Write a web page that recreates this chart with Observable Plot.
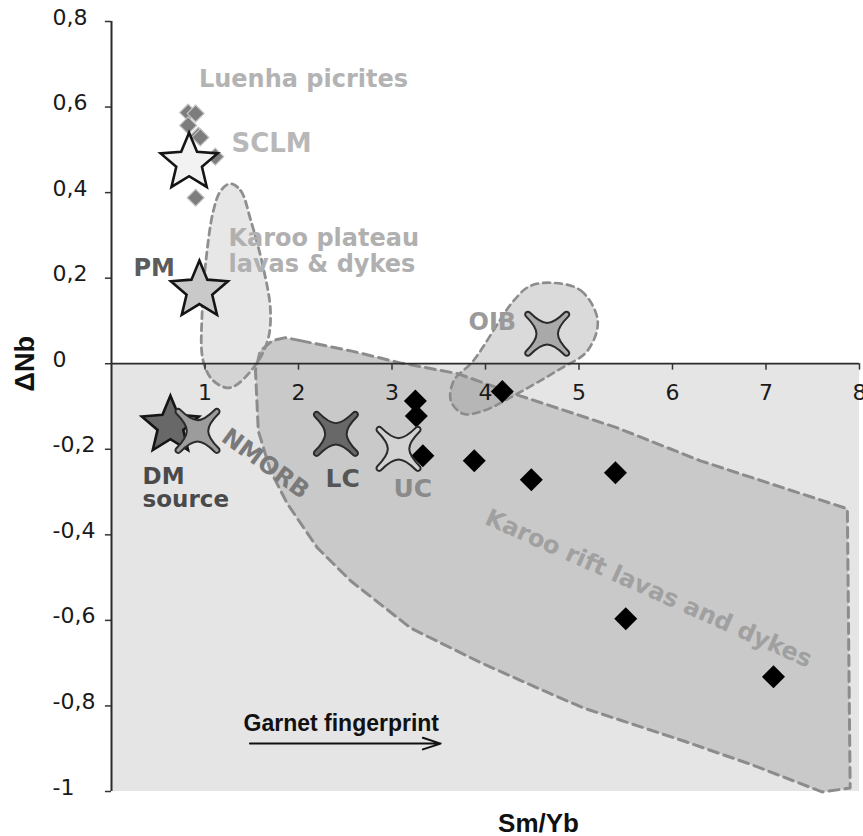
<!DOCTYPE html>
<html><head><meta charset="utf-8">
<script src="https://cdn.jsdelivr.net/npm/d3@7"></script>
<script src="https://cdn.jsdelivr.net/npm/@observablehq/plot@0.6"></script>
<style>body{margin:0;background:#fff}</style>
</head><body><div id="chart"></div>
<script>
// ---- axes ----
const smYbDomain = [0, 8];
const dNbDomain = [-1, 0.8];
const xTicks = [1, 2, 3, 4, 5, 6, 7, 8];
const yTicks = [-1, -0.8, -0.6, -0.4, -0.2, 0, 0.2, 0.4, 0.6, 0.8];

// ---- Karoo rift lavas and dykes (black diamonds) ----
const riftSmYb = [3.25, 3.26, 3.33, 3.88, 4.49, 4.18, 5.39, 5.50, 7.08];
const riftDNb  = [-0.087, -0.122, -0.215, -0.227, -0.271, -0.065, -0.255, -0.596, -0.732];

// ---- Luenha picrites (grey diamonds) ----
const luenhaSmYb = [0.82, 0.90, 0.82, 0.93, 0.95, 1.11, 0.90];
const luenhaDNb  = [0.587, 0.585, 0.557, 0.533, 0.529, 0.484, 0.388];

// ---- reservoirs (5-point stars) ----
const starNames = ["SCLM", "PM", "DM source"];
const starSmYb = [0.83, 0.94, 0.63];
const starDNb  = [0.470, 0.171, -0.145];
const starFill = ["#f2f2f2", "#c9c9c9", "#686868"];

// ---- reservoirs (4-point stars) ----
const crossNames = ["NMORB", "LC", "UC", "OIB"];
const crossSmYb = [0.92, 2.40, 3.07, 4.66];
const crossDNb  = [-0.157, -0.164, -0.199, 0.070];
const crossFill = ["#9c9c9c", "#686868", "#d2d2d2", "#a9a9a9"];

// ---- fields (outlines, Sm/Yb, ΔNb) ----
const riftField = [
  [2.02, 0.054], [2.56, 0.030], [3.09, 0.002], [3.70, -0.023], [4.37, -0.075],
  [5.41, -0.150], [6.30, -0.227], [7.87, -0.339], [7.90, -0.992], [7.60, -1.001],
  [6.83, -0.936], [6.12, -0.882], [5.05, -0.805], [4.70, -0.772], [3.95, -0.699],
  [3.20, -0.618], [2.56, -0.508], [2.20, -0.430], [1.88, -0.327], [1.70, -0.250],
  [1.57, -0.157], [1.54, -0.016], [1.59, 0.030], [1.72, 0.054], [1.86, 0.061]
];
const plateauField = [
  [1.27, 0.421], [1.38, 0.405], [1.49, 0.335], [1.63, 0.218], [1.70, 0.124],
  [1.67, 0.054], [1.52, -0.009], [1.27, -0.056], [1.09, -0.040], [0.98, 0.007],
  [0.97, 0.124], [1.01, 0.241], [1.09, 0.358], [1.17, 0.405]
];
const oibField = [
  [4.73, 0.189], [5.02, 0.171], [5.20, 0.101], [5.09, 0.030], [4.80, -0.012],
  [4.34, -0.070], [3.98, -0.110], [3.76, -0.117], [3.63, -0.087], [3.66, -0.040],
  [3.87, 0.007], [4.30, 0.147], [4.48, 0.182]
];

// ---- annotation labels ----
const labelText = ["Luenha picrites", "SCLM", "Karoo plateau", "lavas & dykes", "PM", "OIB",
  "DM", "source", "NMORB", "LC", "UC", "Karoo rift lavas and dykes", "Garnet fingerprint"];
const labelSmYb = [2.053, 1.283, 1.251, 1.251, 0.235, 3.818, 0.332, 0.332, 1.647, 2.289, 3.016, 5.711, 1.412];
const labelDNb  = [0.646, 0.494, 0.276, 0.214, 0.206, 0.078, -0.281, -0.336, -0.234, -0.289, -0.312, -0.542, -0.858];
const garnetArrowSmYb = [1.48, 3.52];
const garnetArrowDNb = -0.888;

// ---- custom symbols ----
const star5 = {draw(ctx, size) {
  const R = Math.sqrt(size / Math.PI), r = R * 0.45;
  for (let i = 0; i < 10; i++) {
    const a = -Math.PI / 2 + i * Math.PI / 5, rr = i % 2 ? r : R;
    const px = rr * Math.cos(a), py = rr * Math.sin(a);
    i ? ctx.lineTo(px, py) : ctx.moveTo(px, py);
  }
  ctx.closePath();
}};
const cross4 = {draw(ctx, size) {
  const R = Math.sqrt(size / Math.PI), w = 0.09 * R, a = 0.25 * R;
  for (let k = 0; k < 4; k++) {
    const t = Math.PI / 4 + k * Math.PI / 2, t2 = t + Math.PI / 2;
    const ux = Math.cos(t), uy = Math.sin(t), vx = Math.cos(t2), vy = Math.sin(t2);
    const cx = (R - w) * ux, cy = (R - w) * uy;
    if (k === 0) ctx.moveTo(cx - w * vx, cy - w * vy);
    ctx.arc(cx, cy, w, t - Math.PI / 2, t + Math.PI / 2);
    const nx = (R - w) * vx + w * ux, ny = (R - w) * vy + w * uy;
    ctx.bezierCurveTo(a * ux + w * vx, a * uy + w * vy, a * vx + w * ux, a * vy + w * uy, nx, ny);
  }
  ctx.closePath();
}};
const diamond = {draw(ctx, size) {
  const r = Math.sqrt(size / Math.PI);
  ctx.moveTo(0, -r); ctx.lineTo(r, 0); ctx.lineTo(0, r); ctx.lineTo(-r, 0); ctx.closePath();
}};

const fmt = d => String(d).replace(".", ",");
const LAB = "DejaVu Sans";
const lab = (i, opts) => Plot.text([labelText[i]], {
  x: labelSmYb[i], y: labelDNb[i], text: d => d,
  fontFamily: LAB, fontWeight: "bold", fontSize: 24,
  lineAnchor: "bottom", textAnchor: "start", ...opts
});

const chart = Plot.plot({
  width: 863, height: 836,
  marginLeft: 111, marginRight: 4, marginTop: 21, marginBottom: 45,
  x: {domain: smYbDomain, axis: null},
  y: {domain: dNbDomain, axis: null},
  color: {type: "identity"},
  style: {fontFamily: "DejaVu Sans", fontSize: "22px", background: "#fff", overflow: "visible"},
  marks: [
    // negative ΔNb background
    Plot.rect([0], {x1: smYbDomain[0], x2: smYbDomain[1], y1: dNbDomain[0], y2: 0, fill: "#e5e5e5"}),
    // fields
    Plot.line(riftField, {x: d => d[0], y: d => d[1], curve: "linear-closed",
      fill: "#c9c9c9", stroke: "#8c8c8c", strokeWidth: 3, strokeDasharray: "10,6"}),
    Plot.line(plateauField, {x: d => d[0], y: d => d[1], curve: "catmull-rom-closed",
      fill: "#a8a8a8", fillOpacity: 0.28, stroke: "#8f8f8f", strokeWidth: 2.8, strokeDasharray: "7,5"}),
    Plot.line(oibField, {x: d => d[0], y: d => d[1], curve: "catmull-rom-closed",
      fill: "#8f8f8f", fillOpacity: 0.33, stroke: "#8c8c8c", strokeWidth: 2.6, strokeDasharray: "7,5"}),
    // axes
    Plot.ruleY([0], {stroke: "#2b2b2b", strokeWidth: 1.8}),
    Plot.ruleX([0], {stroke: "#2b2b2b", strokeWidth: 2}),
    Plot.ruleY(yTicks, {y: d => d, x1: 0, x2: -0.065, stroke: "#333", strokeWidth: 1.5}),
    Plot.ruleX(xTicks, {x: d => d, y1: 0, y2: -0.015, stroke: "#333", strokeWidth: 1.5}),
    Plot.text(yTicks, {x: 0, y: d => d, dx: -59, dy: -4, textAnchor: "start", text: fmt,
      fontSize: 22, fill: "#1a1a1a"}),
    Plot.text(xTicks, {x: d => d, y: 0, dy: 29, text: fmt, fontSize: 22, fill: "#1a1a1a"}),
    // axis titles
    Plot.text(["ΔNb"], {x: 0, y: 0, dx: -86, rotate: -90, text: d => d,
      fontFamily: "Liberation Sans", fontWeight: "bold", fontSize: 27, fill: "#111"}),
    Plot.text(["Sm/Yb"], {x: 4.567, y: dNbDomain[0], dy: 40, lineAnchor: "bottom", text: d => d,
      fontFamily: "Liberation Sans", fontWeight: "bold", fontSize: 26, fill: "#111"}),
    // labels
    lab(0, {textAnchor: "middle", fill: "#b3b3b3"}),
    lab(2, {fill: "#b0b0b0"}),
    lab(3, {fill: "#b0b0b0"}),
    lab(1, {fill: "#b8b8b8", fontSize: 26}),
    lab(4, {fill: "#5c5c5c"}),
    lab(5, {fill: "#9a9a9a"}),
    lab(6, {fill: "#4a4a4a", fontSize: 23}),
    lab(7, {fill: "#4a4a4a", fontSize: 23}),
    lab(8, {textAnchor: "middle", lineAnchor: "middle", rotate: 36, fill: "#7a7a7a"}),
    lab(9, {fill: "#555555", fontSize: 25}),
    lab(10, {fill: "#8a8a8a", fontSize: 25}),
    lab(11, {textAnchor: "middle", rotate: 24, fill: "#a0a0a0"}),
    lab(12, {fill: "#111", fontFamily: "Liberation Sans", fontSize: 23}),
    Plot.arrow([0], {x1: garnetArrowSmYb[0], x2: garnetArrowSmYb[1], y1: garnetArrowDNb, y2: garnetArrowDNb,
      stroke: "#111", strokeWidth: 2, headLength: 14, headAngle: 36}),
    // data points
    Plot.dot(luenhaSmYb, {x: d => d, y: (d, i) => luenhaDNb[i], symbol: diamond, r: 8.5,
      fill: "#7d7d7d", stroke: "#c4c4c4", strokeWidth: 1.2}),
    Plot.dot(riftSmYb, {x: d => d, y: (d, i) => riftDNb[i], symbol: diamond, r: 11.5,
      fill: "#000", stroke: "none"}),
    Plot.dot(starNames, {x: (d, i) => starSmYb[i], y: (d, i) => starDNb[i], symbol: star5, r: 30,
      fill: (d, i) => starFill[i], stroke: "#151515", strokeWidth: 2.6}),
    Plot.dot(crossNames, {x: (d, i) => crossSmYb[i], y: (d, i) => crossDNb[i], symbol: cross4, r: 30,
      fill: (d, i) => crossFill[i], stroke: "#2a2a2a", strokeWidth: 2})
  ]
});
document.getElementById("chart").append(chart);
</script>
</body></html>
